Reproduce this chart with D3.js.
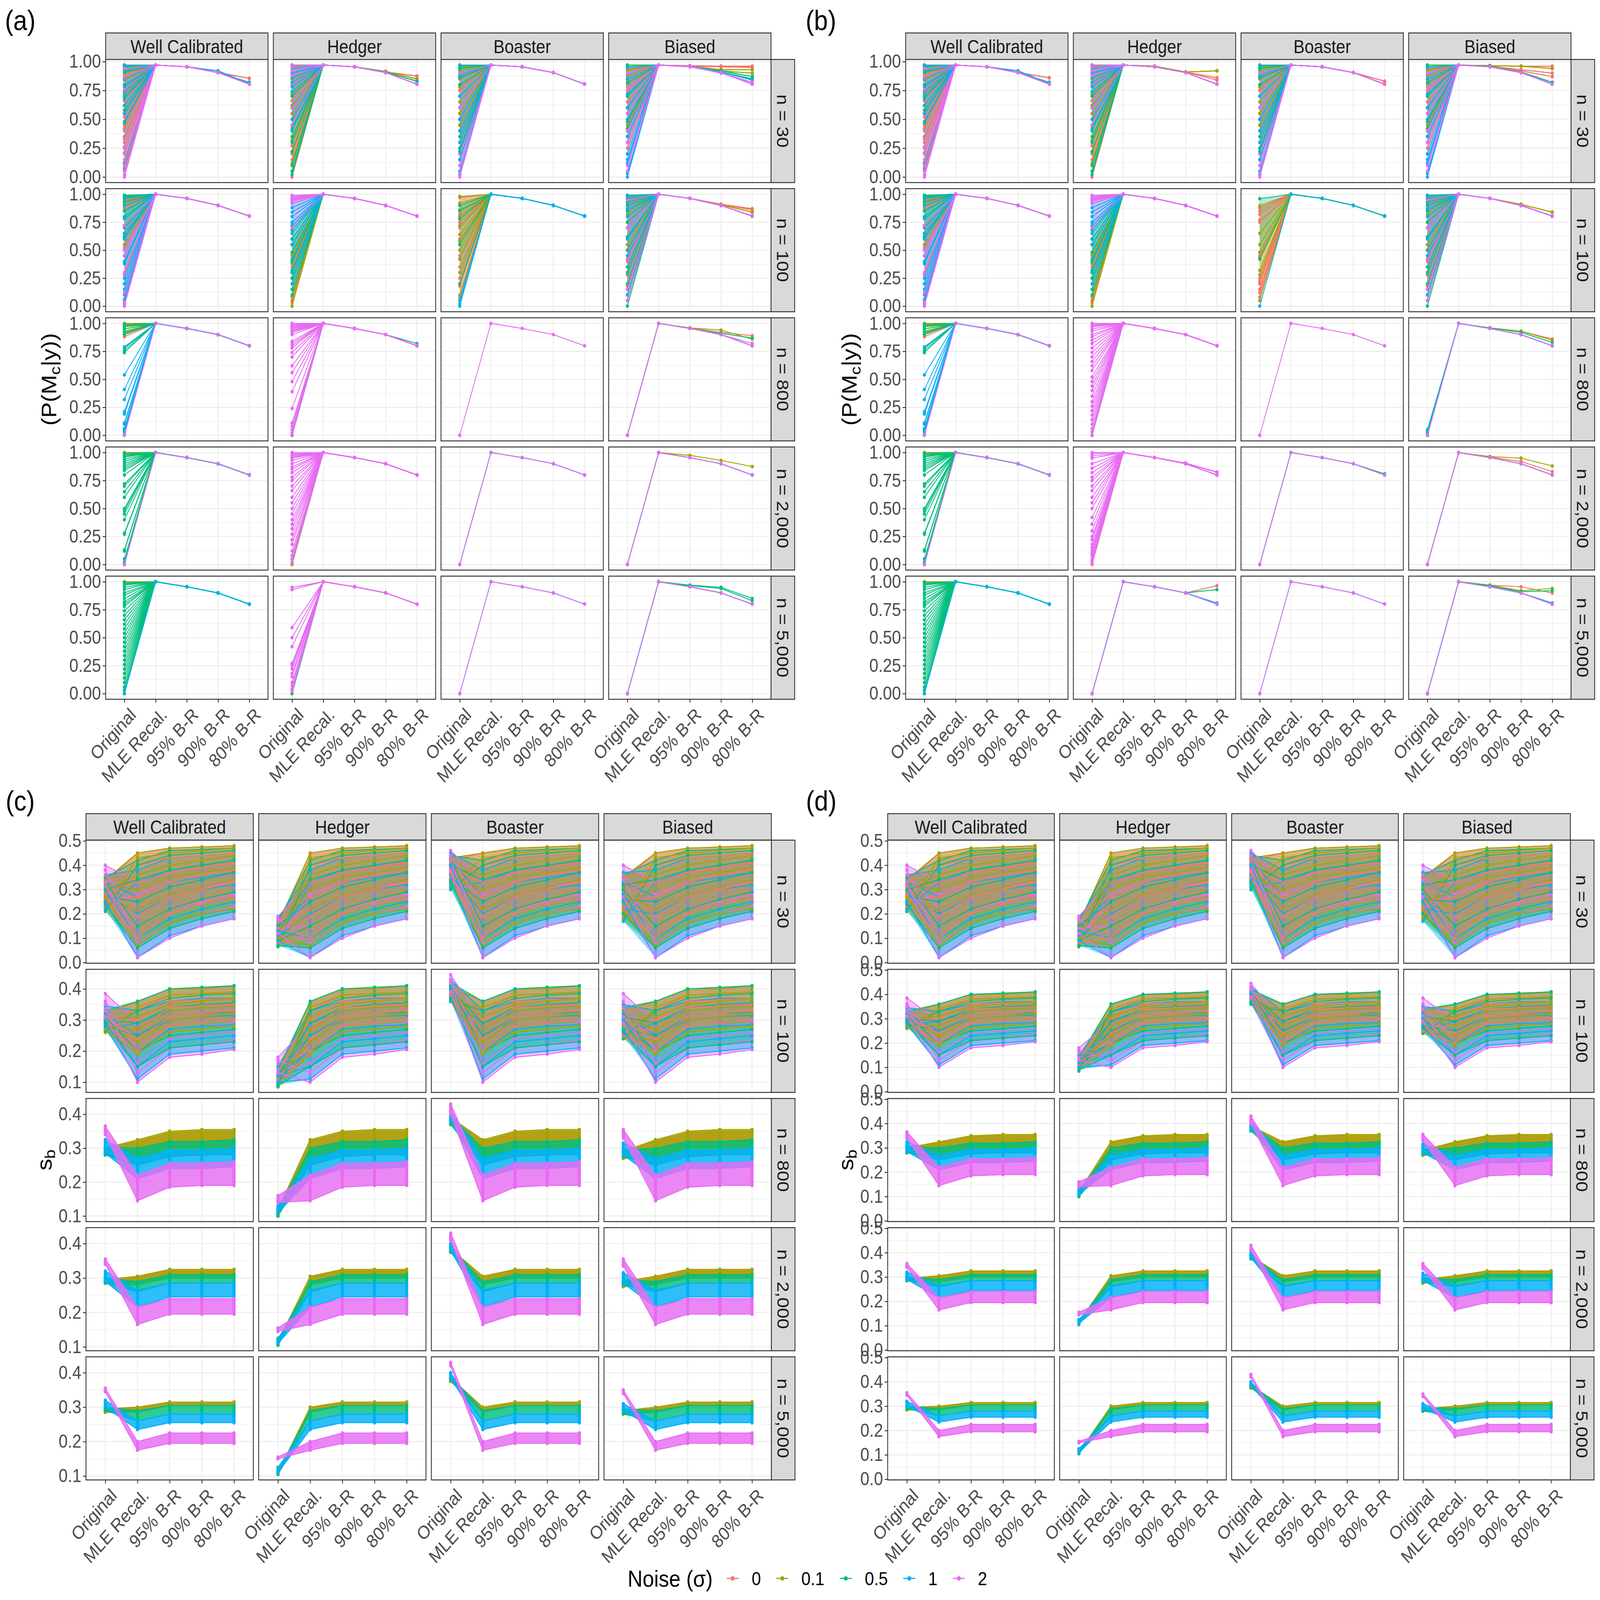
<!DOCTYPE html>
<html>
<head>
<meta charset='utf-8'>
<title>Recalibration panels</title>
<style>
	html, body { margin: 0; padding: 0; background: #fff; overflow: hidden; }
	svg { display: block; width: 100vw; height: 100vh; }
	text { font-family: 'Liberation Sans', Arial, sans-serif; }
	.strip rect { fill: #d9d9d9; stroke: #333; stroke-width: 2.5px; }
	.strip text { fill: #1a1a1a; font-size: 50px; }
	.panel-border { fill: none; stroke: #333; stroke-width: 2.5px; }
	.grid-major { stroke: #ebebeb; stroke-width: 2.4px; }
	.grid-minor { stroke: #ebebeb; stroke-width: 1.2px; }
	.axis text { fill: #4d4d4d; font-size: 49px; font-family: 'Liberation Sans', Arial, sans-serif; }
	.axis line { stroke: #333; stroke-width: 2.4px; }
	.axis path.domain { display: none; }
</style>
</head>
<body>
<script src='https://d3js.org/d3.v7.min.js'></script>
<script>
	'use strict';

	// ---- categories ----
	const xCats = ['Original', 'MLE Recal.', '95% B-R', '90% B-R', '80% B-R'];
	const types = ['Well Calibrated', 'Hedger', 'Boaster', 'Biased'];
	const sizes = ['n = 30', 'n = 100', 'n = 800', 'n = 2,000', 'n = 5,000'];
	const noise = ['0', '0.1', '0.5', '1', '2'];
	const noiseColors = ['#F8766D', '#A3A500', '#00BF7D', '#00B0F6', '#E76BF3'];
	const pTicks = [0, 0.25, 0.5, 0.75, 1];
	const sbTicks = [0, 0.1, 0.2, 0.3, 0.4, 0.5];

	// ---- P(Mc|y): common path after "Original" per n (MLE, 95, 90, 80) ----
	const pTail = [
		[0.97, 0.955, 0.905, 0.805],
		[1.00, 0.963, 0.900, 0.805],
		[1.00, 0.955, 0.900, 0.800],
		[1.00, 0.955, 0.900, 0.800],
		[1.00, 0.955, 0.900, 0.800]
	];

	// Original values, [row n][type][noise]
	const origA = [
		[
			[[0.97,0.93,0.88,0.8,0.66,0.52,0.45,0.33,0.3,0.25],
			 [0.96,0.9,0.84,0.72,0.62,0.55,0.42,0.35,0.21,0.08],
			 [0.97,0.95,0.91,0.85,0.78,0.68,0.58,0.47,0.12,0.06],
			 [0.96,0.92,0.86,0.8,0.74,0.7,0.62,0.55,0.48],
			 [0.94,0.86,0.76,0.4,0.33,0.26,0.2,0.15,0.1,0.05,0.02,0]],
			[[0.95,0.8,0.66,0.5,0.4,0.27,0.2,0.15,0.1,0],
			 [0.96,0.85,0.72,0.62,0.55,0.45,0.32,0.22,0.12,0.05],
			 [0.97,0.9,0.7,0.6,0.5,0.42,0.35,0.3,0.22,0.1,0.05,0.02],
			 [0.97,0.94,0.9,0.86,0.82,0.78,0.74,0.6,0.5,0.4],
			 [0.97,0.95,0.92,0.88,0.6,0.45]],
			[[0.95,0.75,0.6,0.55,0.45,0.3,0.2],
			 [0.97,0.95,0.92,0.88,0.85,0.78,0.7,0.65,0.55,0.45,0.4,0.3],
			 [0.97,0.94,0.9,0.86,0.8,0.6,0.5,0.35,0.25,0.15],
			 [0.96,0.88,0.7,0.5,0.4,0.3,0.22,0.15,0.1,0.05,0.02],
			 [0.9,0.6,0.1,0.03,0]],
			[[0.97,0.92,0.85,0.75,0.65,0.5,0.35,0.25],
			 [0.97,0.93,0.88,0.8,0.6,0.55,0.45,0.4],
			 [0.97,0.95,0.9,0.82,0.7,0.6,0.48,0.42,0.3],
			 [0.95,0.85,0.72,0.6,0.5,0.35,0.2,0.15,0.12,0.03,0],
			 [0.9,0.78,0.55,0.4,0.3,0.1,0.05]]
		],
		[
			[[0.99,0.97,0.95,0.92,0.88,0.52,0.28],
			 [0.99,0.97,0.94,0.9,0.86,0.55,0.5],
			 [0.99,0.98,0.96,0.93,0.9,0.85,0.8,0.7,0.65,0.62,0.05],
			 [0.97,0.9,0.85,0.78,0.72,0.65,0.6,0.5,0.45,0.4,0.38,0.25,0.2,0.15,0.1,0.06,0.02],
			 [0.72,0.5,0.45,0.3,0.12,0.03,0]],
			[[0.6,0.45,0.35,0.25,0.15,0.08,0.03],
			 [0.55,0.45,0.38,0.3,0.2,0.1,0.05,0],
			 [0.68,0.6,0.55,0.48,0.4,0.32,0.25,0.15,0.1],
			 [0.96,0.92,0.88,0.84,0.8,0.75,0.72,0.65,0.55,0.42,0.3,0.2],
			 [0.99,0.98,0.97,0.96,0.95,0.94,0.92,0.7]],
			[[0.97,0.9,0.82,0.75,0.7,0.6,0.45,0.35,0.25,0.18,0.1],
			 [0.98,0.92,0.86,0.8,0.72,0.64,0.58,0.5,0.42,0.3,0.2,0.08],
			 [0.9,0.85,0.78,0.55,0.2],
			 [0.05,0.02,0],
			 []],
			[[0.99,0.9,0.75,0.6,0.5,0.42,0.3,0.18,0.1],
			 [0.98,0.92,0.82,0.7,0.55,0.4,0.28,0.15],
			 [0.99,0.96,0.9,0.85,0.75,0.62,0.5,0.35,0.2,0.05,0],
			 [0.98,0.93,0.87,0.8,0.7,0.6,0.45,0.3,0.1],
			 [0.95,0.7,0.4,0.15,0.05]]
		],
		[
			[[0.99,0.97,0.9,0.88],
			 [1,0.99,0.98,0.97,0.95,0.93,0.91],
			 [0.99,0.97,0.95,0.92,0.9,0.78,0.76,0.74,0.2,0.1,0.05],
			 [0.79,0.54,0.41,0.32,0.21,0.19,0.11,0.06,0.03,0.01],
			 [0]],
			[[], [], [0], [0],
			 [1,0.99,0.98,0.97,0.96,0.95,0.94,0.93,0.92,0.9,0.84,0.82,0.8,0.78,0.74,0.7,0.62,0.56,0.48,0.39,0.24,0.11,0.08,0.05,0.02,0]],
			[[], [], [], [], [0]],
			[[0], [0], [0], [0], [0]]
		],
		[
			[[1], [1,1,0.99],
			 [0.99,0.98,0.97,0.96,0.94,0.92,0.9,0.88,0.86,0.84,0.8,0.72,0.7,0.65,0.6,0.5,0.48,0.45,0.4,0.28,0.27,0.13,0.12,0.05,0.02,0],
			 [0], [0]],
			[[], [0], [], [0.02],
			 [1,0.99,0.98,0.97,0.96,0.95,0.93,0.9,0.87,0.85,0.82,0.78,0.75,0.7,0.66,0.6,0.55,0.5,0.45,0.4,0.36,0.32,0.27,0.22,0.18,0.12,0.08,0.05,0.02]],
			[[], [], [0], [0], [0]],
			[[0], [0], [0], [0], [0]]
		],
		[
			[[], [1,1],
			 [0.99,0.98,0.97,0.95,0.93,0.9,0.88,0.85,0.82,0.8,0.78,0.74,0.7,0.66,0.62,0.58,0.54,0.5,0.46,0.42,0.38,0.34,0.3,0.26,0.22,0.18,0.14,0.1,0.06,0.03,0],
			 [0], []],
			[[], [], [0], [],
			 [0.95,0.93,0.59,0.5,0.42,0.27,0.25,0.22,0.18,0.15,0.1,0.07,0.04,0.02]],
			[[], [], [], [0], [0]],
			[[0], [0], [0,0], [0], [0]]
		]
	];

	const origB = [
		origA[0],
		[origA[1][0], origA[1][1],
			[[0.9,0.85,0.82,0.77,0.75,0.45,0.25,0.22,0.2,0.15,0.12,0.08],
			 [0.88,0.65,0.55,0.48,0.43,0.32,0.28,0.05],
			 [0.96,0.42],
			 [0],
			 []],
			origA[1][3]],
		[origA[2][0],
			[[], [], [], [0],
			 [1,0.99,0.98,0.97,0.95,0.93,0.9,0.88,0.85,0.82,0.78,0.74,0.7,0.66,0.62,0.58,0.52,0.48,0.44,0.4,0.35,0.3,0.26,0.22,0.18,0.14,0.1,0.06,0.03,0]],
			origA[2][2],
			[[0], [0], [0.05,0.02], [0.03,0], [0]]],
		[origA[3][0],
			[[0], [], [], [],
			 [1,0.99,0.97,0.95,0.9,0.86,0.82,0.78,0.75,0.7,0.66,0.6,0.55,0.5,0.42,0.36,0.3,0.25,0.22,0.18,0.15,0.12,0.1,0.08,0.05,0.03,0.01]],
			origA[3][2], origA[3][3]],
		[origA[4][0],
			[[0], [], [0], [0], [0]],
			origA[4][2], origA[4][3]]
	];

	// extra end paths: [row, type, noise, MLE, 95%, 90%, 80%]
	const tailsA = [
		[0,0,3, 0.97,0.955,0.92,0.81], [0,0,0, 0.97,0.955,0.905,0.855], [0,0,2, 0.97,0.955,0.905,0.82],
		[0,1,0, 0.97,0.955,0.91,0.875], [0,1,1, 0.97,0.955,0.915,0.85], [0,1,2, 0.97,0.955,0.91,0.83],
		[0,3,0, 0.97,0.965,0.96,0.96], [0,3,0, 0.97,0.96,0.955,0.95], [0,3,1, 0.97,0.96,0.93,0.93],
		[0,3,1, 0.97,0.96,0.92,0.9], [0,3,2, 0.97,0.96,0.92,0.87], [0,3,2, 0.97,0.96,0.91,0.85],
		[0,3,3, 0.97,0.96,0.91,0.84], [0,3,4, 0.97,0.96,0.9,0.82],
		[1,3,0, 1,0.963,0.91,0.87], [1,3,0, 1,0.963,0.91,0.86], [1,3,1, 1,0.963,0.905,0.84],
		[2,1,2, 1,0.955,0.9,0.82], [2,3,0, 1,0.96,0.92,0.89], [2,3,1, 1,0.96,0.94,0.86],
		[2,3,2, 1,0.955,0.91,0.87], [2,3,4, 1,0.955,0.9,0.82],
		[3,3,1, 1,0.975,0.93,0.875],
		[4,3,2, 1,0.97,0.95,0.85], [4,3,2, 1,0.965,0.94,0.83]
	];
	const tailsB = [
		[0,0,3, 0.97,0.955,0.92,0.81], [0,0,0, 0.97,0.955,0.905,0.86], [0,0,2, 0.97,0.955,0.905,0.82],
		[0,1,1, 0.97,0.96,0.91,0.92], [0,1,0, 0.97,0.96,0.91,0.86], [0,1,0, 0.97,0.96,0.91,0.84],
		[0,2,0, 0.97,0.955,0.905,0.83],
		[0,3,0, 0.97,0.965,0.96,0.96], [0,3,1, 0.97,0.965,0.96,0.94], [0,3,0, 0.97,0.96,0.93,0.9],
		[0,3,0, 0.97,0.96,0.92,0.87], [0,3,2, 0.97,0.96,0.91,0.82],
		[1,3,1, 1,0.963,0.91,0.84],
		[2,3,0, 1,0.96,0.93,0.86], [2,3,1, 1,0.96,0.93,0.85], [2,3,2, 1,0.96,0.92,0.83],
		[3,1,4, 1,0.955,0.905,0.825], [3,2,2, 1,0.955,0.9,0.81], [3,3,1, 1,0.965,0.95,0.88],
		[3,3,0, 1,0.96,0.92,0.83],
		[4,1,0, 1,0.955,0.9,0.965], [4,1,2, 1,0.955,0.9,0.93], [4,1,3, 1,0.955,0.9,0.81],
		[4,3,1, 1,0.97,0.92,0.94], [4,3,0, 1,0.97,0.955,0.9], [4,3,2, 1,0.965,0.91,0.92],
		[4,3,3, 1,0.955,0.9,0.81]
	];

	// ---- s_b: line i of a group = [orig[i], mle[i], br[i][0..2]] ----
	// Original, [row][type][noise]
	const sbOrig = [
		[[[0.33,0.23,0.3,0.26,0.31,0.28],[0.34,0.22,0.29,0.32,0.25,0.27],[0.35,0.21,0.3,0.27,0.33,0.24],
		  [0.36,0.22,0.33,0.28,0.3,0.25],[0.40,0.25,0.36,0.3,0.38,0.33]],
		 [[0.15,0.07,0.12,0.1,0.13,0.08],[0.16,0.07,0.11,0.14,0.09,0.1],[0.17,0.065,0.12,0.15,0.09,0.07],
		  [0.18,0.07,0.15,0.11,0.13,0.09],[0.19,0.1,0.17,0.14,0.18,0.12]],
		 [[0.42,0.33,0.38,0.4,0.35,0.37],[0.43,0.32,0.39,0.36,0.41,0.34],[0.44,0.3,0.4,0.35,0.42,0.33],
		  [0.45,0.31,0.42,0.36,0.4,0.34],[0.46,0.34,0.44,0.4,0.42,0.38]],
		 [[0.34,0.19,0.3,0.25,0.28,0.22],[0.35,0.18,0.31,0.24,0.28,0.21],[0.36,0.17,0.32,0.26,0.3,0.2],
		  [0.37,0.17,0.33,0.22,0.28,0.25],[0.40,0.22,0.36,0.3,0.34,0.27]]],
		[[[0.32,0.27,0.3,0.28,0.31,0.29],[0.32,0.26,0.3,0.28,0.29,0.27],[0.33,0.265,0.3,0.28,0.31,0.29],
		  [0.345,0.27,0.32,0.29,0.3,0.28],[0.385,0.29,0.36,0.33,0.35,0.31]],
		 [[0.13,0.09,0.12,0.1,0.11,0.095],[0.13,0.085,0.11,0.1,0.12,0.09],[0.14,0.085,0.12,0.1,0.13,0.09],
		  [0.15,0.09,0.13,0.11,0.12,0.1],[0.18,0.11,0.16,0.14,0.17,0.13]],
		 [[0.41,0.36,0.39,0.37,0.4,0.38],[0.41,0.36,0.38,0.4,0.37,0.39],[0.42,0.36,0.4,0.38,0.41,0.37],
		  [0.43,0.36,0.41,0.38,0.4,0.39],[0.445,0.37,0.43,0.4,0.42,0.39]],
		 [[0.33,0.24,0.3,0.27,0.29,0.25],[0.33,0.24,0.29,0.31,0.26,0.28],[0.34,0.24,0.31,0.27,0.3,0.26],
		  [0.35,0.25,0.32,0.28,0.3,0.27],[0.385,0.27,0.36,0.31,0.34,0.29]]],
		[[[0.28,0.30],[0.28,0.30],[0.28,0.305],[0.285,0.325],[0.34,0.365]],
		 [[0.10,0.115],[0.10,0.12],[0.10,0.12],[0.11,0.13],[0.14,0.16]],
		 [[0.37,0.39],[0.37,0.39],[0.37,0.395],[0.38,0.41],[0.40,0.43]],
		 [[0.27,0.29],[0.27,0.29],[0.275,0.295],[0.28,0.315],[0.33,0.355]]],
		[[[0.285,0.295],[0.285,0.295],[0.285,0.30],[0.29,0.32],[0.34,0.355]],
		 [[0.105,0.115],[0.105,0.115],[0.105,0.12],[0.11,0.125],[0.145,0.155]],
		 [[0.375,0.385],[0.375,0.385],[0.375,0.39],[0.38,0.40],[0.41,0.43]],
		 [[0.275,0.29],[0.275,0.29],[0.28,0.295],[0.285,0.315],[0.335,0.355]]],
		[[[0.285,0.295],[0.285,0.295],[0.29,0.30],[0.30,0.32],[0.345,0.355]],
		 [[0.105,0.11],[0.105,0.11],[0.105,0.115],[0.11,0.125],[0.15,0.155]],
		 [[0.375,0.385],[0.375,0.385],[0.38,0.39],[0.385,0.40],[0.42,0.43]],
		 [[0.28,0.29],[0.28,0.29],[0.28,0.295],[0.29,0.31],[0.34,0.35]]]
	];
	// MLE Recal., [row][noise]
	const sbMle = [
		[[0.45,0.40,0.33,0.27,0.19,0.10],[0.45,0.43,0.36,0.30,0.22,0.07],[0.42,0.40,0.34,0.25,0.15,0.06],
		 [0.38,0.33,0.27,0.2,0.1,0.02],[0.33,0.28,0.22,0.15,0.08,0.02]],
		[[0.36,0.33,0.30,0.27,0.24,0.20],[0.36,0.34,0.31,0.27,0.23,0.19],[0.36,0.33,0.29,0.25,0.2,0.15],
		 [0.33,0.29,0.25,0.2,0.15,0.11],[0.29,0.25,0.2,0.16,0.13,0.10]],
		[[0.27,0.32],[0.27,0.325],[0.25,0.30],[0.21,0.27],[0.145,0.22]],
		[[0.28,0.305],[0.28,0.305],[0.26,0.29],[0.215,0.265],[0.165,0.215]],
		[[0.285,0.30],[0.285,0.30],[0.26,0.29],[0.235,0.26],[0.175,0.20]]
	];
	// 95%, 90%, 80% B-R, [row][noise][line]
	const sbBr = [
		[[[0.47,0.475,0.48],[0.43,0.44,0.45],[0.37,0.39,0.41],[0.33,0.36,0.38],[0.27,0.3,0.33],[0.2,0.24,0.26]],
		 [[0.47,0.475,0.48],[0.45,0.46,0.47],[0.40,0.42,0.44],[0.35,0.37,0.39],[0.28,0.31,0.34],[0.16,0.2,0.22]],
		 [[0.46,0.465,0.47],[0.44,0.45,0.46],[0.38,0.40,0.42],[0.31,0.34,0.37],[0.22,0.26,0.29],[0.14,0.18,0.21]],
		 [[0.43,0.44,0.45],[0.38,0.40,0.42],[0.33,0.35,0.37],[0.27,0.30,0.32],[0.18,0.22,0.25],[0.11,0.15,0.18]],
		 [[0.38,0.40,0.42],[0.33,0.35,0.37],[0.28,0.31,0.33],[0.22,0.25,0.28],[0.16,0.2,0.23],[0.10,0.15,0.18]]],
		[[[0.40,0.405,0.41],[0.38,0.385,0.39],[0.36,0.365,0.37],[0.34,0.345,0.35],[0.31,0.32,0.33],[0.28,0.29,0.30]],
		 [[0.40,0.40,0.41],[0.38,0.385,0.39],[0.35,0.36,0.37],[0.33,0.34,0.345],[0.30,0.31,0.32],[0.26,0.27,0.28]],
		 [[0.40,0.405,0.41],[0.37,0.38,0.385],[0.34,0.35,0.355],[0.31,0.32,0.325],[0.25,0.26,0.27],[0.21,0.22,0.23]],
		 [[0.36,0.37,0.37],[0.33,0.34,0.345],[0.30,0.31,0.315],[0.27,0.28,0.285],[0.23,0.24,0.25],[0.19,0.20,0.21]],
		 [[0.33,0.34,0.35],[0.30,0.31,0.32],[0.27,0.28,0.29],[0.24,0.25,0.26],[0.21,0.22,0.235],[0.18,0.19,0.205]]],
		[[[0.30,0.30,0.30],[0.345,0.35,0.35]], [[0.30,0.30,0.30],[0.35,0.355,0.355]],
		 [[0.275,0.28,0.28],[0.32,0.32,0.325]], [[0.24,0.24,0.245],[0.295,0.295,0.30]],
		 [[0.185,0.19,0.19],[0.255,0.255,0.26]]],
		[[[0.305,0.305,0.305],[0.325,0.325,0.325]], [[0.30,0.30,0.30],[0.325,0.325,0.325]],
		 [[0.285,0.285,0.285],[0.31,0.31,0.31]], [[0.245,0.245,0.245],[0.285,0.285,0.285]],
		 [[0.195,0.195,0.195],[0.24,0.24,0.24]]],
		[[[0.305,0.305,0.305],[0.315,0.315,0.315]], [[0.305,0.305,0.305],[0.315,0.315,0.315]],
		 [[0.28,0.28,0.28],[0.305,0.305,0.305]], [[0.255,0.255,0.255],[0.28,0.28,0.28]],
		 [[0.195,0.195,0.195],[0.225,0.225,0.225]]]
	];

	// ---- layout ----
	const W = 4800, H = 4224;
	const stripH = 70, rowH = 325, gap = 16, tickLen = 9, sideW = 71;

	// the drawing fills the whole window
	const svg = d3.select('body').append('svg')
		.attr('viewBox', '0 0 ' + W + ' ' + H)
		.attr('preserveAspectRatio', 'none');
	svg.append('rect').attr('width', W).attr('height', H).attr('fill', '#fff');

	function expand(ext) {
		const pad = (ext[1] - ext[0]) * 0.05;
		return [ext[0] - pad, ext[1] + pad];
	}

	// lines for the P(Mc|y) panels
	function probCells(orig, extra) {
		const cells = {};
		orig.forEach(function(row, r) {
			row.forEach(function(cell, t) {
				const groups = [];
				cell.forEach(function(origs, k) {
					if (!origs.length) return;
					const tails = [pTail[r]].concat(extra
						.filter(function(e) {return e[0] === r && e[1] === t && e[2] === k;})
						.map(function(e) {return e.slice(3);}));
					const n = Math.max(origs.length, tails.length);
					const lines = [];
					for (let i = 0; i < n; i++) {
						lines.push([origs[i % origs.length]].concat(tails[i % tails.length]));
					}
					groups.push({k: k, lines: lines});
				});
				cells[r + '-' + t] = groups;
			});
		});
		return cells;
	}

	function sbCell(r, t) {
		return noise.map(function(nz, k) {
			const o = sbOrig[r][t][k], m = sbMle[r][k], b = sbBr[r][k];
			const lines = o.map(function(v, i) {return [v, m[i]].concat(b[i]);});
			return {k: k, lines: lines};
		});
	}

	function envelope(lines) {
		return xCats.map(function(cat, i) {
			return {c: cat,
				lo: d3.min(lines, function(l) {return l[i];}),
				hi: d3.max(lines, function(l) {return l[i];})};
		});
	}

	function drawProbMarks(cells) {
		return function(g, r, t, x, y) {
			const line = d3.line()
				.x(function(d, i) {return x(xCats[i]);})
				.y(function(d) {return y(d);});
			const fan = d3.area()
				.x(function(d) {return x(d.c);})
				.y0(function(d) {return y(d.lo);})
				.y1(function(d) {return y(d.hi);});
			const groups = cells[r + '-' + t];
			if (r < 2) {
				groups.forEach(function(gr) {
					g.append('path').attr('d', fan(envelope(gr.lines).slice(0, 2)))
						.attr('fill', noiseColors[gr.k]).attr('fill-opacity', 0.3);
				});
			}
			groups.forEach(function(gr) {
				const c = noiseColors[gr.k];
				gr.lines.forEach(function(v) {
					g.append('path').attr('d', line(v))
						.attr('fill', 'none').attr('stroke', c).attr('stroke-width', 2.4);
					g.selectAll(null).data(v).enter().append('circle')
						.attr('cx', function(d, i) {return x(xCats[i]);})
						.attr('cy', function(d) {return y(d);})
						.attr('r', 4.8).attr('fill', c);
				});
			});
		};
	}

	function drawSbMarks(g, r, t, x, y) {
		const dense = r < 2;
		const area = d3.area()
			.x(function(d) {return x(d.c);})
			.y0(function(d) {return y(d.lo);})
			.y1(function(d) {return y(d.hi);});
		const line = d3.line()
			.x(function(d, i) {return x(xCats[i]);})
			.y(function(d) {return y(d);});
		const bands = sbCell(r, t);

		function drawColumns(b, op) {
			g.selectAll(null).data(envelope(b.lines)).enter().append('line')
				.attr('x1', function(d) {return x(d.c);})
				.attr('x2', function(d) {return x(d.c);})
				.attr('y1', function(d) {return y(d.lo);})
				.attr('y2', function(d) {return y(d.hi);})
				.attr('stroke', noiseColors[b.k]).attr('stroke-width', 9)
				.attr('stroke-linecap', 'round').attr('stroke-opacity', op);
		}
		function drawLine(v, c) {
			g.append('path').attr('d', line(v))
				.attr('fill', 'none').attr('stroke', c).attr('stroke-width', 2.6);
			g.selectAll(null).data(v).enter().append('circle')
				.attr('cx', function(d, i) {return x(xCats[i]);})
				.attr('cy', function(d) {return y(d);})
				.attr('r', 4.8).attr('fill', c);
		}

		if (dense) {
			// high-noise bands first so the low-noise colours sit on top, as in the lines
			bands.slice().reverse().forEach(function(b) {
				g.append('path').attr('d', area(envelope(b.lines)))
					.attr('fill', noiseColors[b.k]).attr('fill-opacity', 0.42);
			});
			bands.forEach(function(b) {drawColumns(b, 0.45);});
			const n = d3.max(bands, function(b) {return b.lines.length;});
			for (let i = 0; i < n; i++) {
				bands.forEach(function(b) {
					if (b.lines[i]) drawLine(b.lines[i], noiseColors[b.k]);
				});
			}
		} else {
			bands.forEach(function(b) {
				const c = noiseColors[b.k];
				g.append('path').attr('d', area(envelope(b.lines)))
					.attr('fill', c).attr('fill-opacity', 0.82);
				b.lines.forEach(function(v) {drawLine(v, c);});
				drawColumns(b, 1);
			});
		}
	}

	function drawFigure(cfg) {
		const x = d3.scalePoint().domain(xCats).range([0, cfg.colW]).padding(0.6);
		const root = svg.append('g');
		const right = cfg.left + 4 * cfg.colW + 3 * gap;

		root.append('text')
			.attr('x', cfg.labelX).attr('y', cfg.top - 8)
			.attr('font-size', 75).attr('fill', '#000')
			.text(cfg.label);

		types.forEach(function(tp, t) {
			const s = root.append('g').attr('class', 'strip')
				.attr('transform', 'translate(' + (cfg.left + t * (cfg.colW + gap)) + ',' + cfg.top + ')');
			s.append('rect').attr('width', cfg.colW).attr('height', stripH);
			s.append('text').attr('x', cfg.colW / 2).attr('y', stripH / 2)
				.attr('dy', '0.36em').attr('text-anchor', 'middle').text(tp);
		});

		sizes.forEach(function(sz, r) {
			const py = cfg.top + stripH + r * (rowH + gap);
			const y = d3.scaleLinear().domain(cfg.yDomain(r)).range([rowH, 0]);
			const dom = y.domain();
			const ticks = cfg.ticks.filter(function(v) {return v >= dom[0] && v <= dom[1];});
			const step = cfg.ticks[1] - cfg.ticks[0];
			const minor = cfg.ticks.map(function(v) {return v - step / 2;})
				.concat([cfg.ticks[cfg.ticks.length - 1] + step / 2])
				.filter(function(v) {return v >= dom[0] && v <= dom[1];});

			const s = root.append('g').attr('class', 'strip')
				.attr('transform', 'translate(' + right + ',' + py + ')');
			s.append('rect').attr('width', sideW).attr('height', rowH);
			s.append('text')
				.attr('transform', 'translate(' + (sideW / 2) + ',' + (rowH / 2) + ') rotate(90)')
				.attr('dy', '0.36em').attr('text-anchor', 'middle').text(sz);

			types.forEach(function(tp, t) {
				const px = cfg.left + t * (cfg.colW + gap);
				const cell = root.append('g').attr('transform', 'translate(' + px + ',' + py + ')');
				cell.append('rect').attr('width', cfg.colW).attr('height', rowH).attr('fill', '#fff');
				cell.selectAll(null).data(minor).enter().append('line')
					.attr('class', 'grid-minor')
					.attr('x1', 0).attr('x2', cfg.colW)
					.attr('y1', function(d) {return y(d);}).attr('y2', function(d) {return y(d);});
				cell.selectAll(null).data(ticks).enter().append('line')
					.attr('class', 'grid-major')
					.attr('x1', 0).attr('x2', cfg.colW)
					.attr('y1', function(d) {return y(d);}).attr('y2', function(d) {return y(d);});
				cell.selectAll(null).data(xCats).enter().append('line')
					.attr('class', 'grid-major')
					.attr('x1', function(d) {return x(d);}).attr('x2', function(d) {return x(d);})
					.attr('y1', 0).attr('y2', rowH);

				cfg.marks(cell.append('g'), r, t, x, y);

				cell.append('rect').attr('class', 'panel-border')
					.attr('width', cfg.colW).attr('height', rowH);

				if (t === 0) {
					cell.append('g').attr('class', 'axis')
						.call(d3.axisLeft(y).tickValues(ticks).tickFormat(cfg.format)
							.tickSize(tickLen).tickPadding(5));
				}
				if (r === sizes.length - 1) {
					const ax = cell.append('g').attr('class', 'axis')
						.attr('transform', 'translate(0,' + rowH + ')')
						.call(d3.axisBottom(x).tickSize(tickLen));
					ax.selectAll('text')
						.attr('x', 0).attr('y', 0).attr('dy', '0.72em')
						.attr('text-anchor', 'end')
						.attr('transform', 'translate(12,' + (tickLen + 10) + ') rotate(-45)');
				}
			});
		});

		const midY = cfg.top + stripH + (5 * rowH + 4 * gap) / 2;
		const title = root.append('text')
			.attr('transform', 'translate(' + cfg.titleX + ',' + midY + ') rotate(-90)')
			.attr('text-anchor', 'middle').attr('dy', '0.36em')
			.attr('font-size', 62).attr('fill', '#000');
		cfg.title(title);
	}

	function probTitle(t) {
		t.append('tspan').text('(P(M');
		t.append('tspan').attr('font-size', 44).attr('baseline-shift', '-25%').text('c');
		t.append('tspan').text('|y))');
	}
	function sbTitle(t) {
		t.append('tspan').text('s');
		t.append('tspan').attr('font-size', 44).attr('baseline-shift', '-25%').text('b');
	}

	function probDomain(cells) {
		return function(r) {
			let vals = [];
			types.forEach(function(tp, t) {
				cells[r + '-' + t].forEach(function(gr) {vals = vals.concat(d3.merge(gr.lines));});
			});
			return expand(d3.extent(vals));
		};
	}
	function sbExtent(r) {
		let vals = [];
		types.forEach(function(tp, t) {
			sbCell(r, t).forEach(function(b) {vals = vals.concat(d3.merge(b.lines));});
		});
		return d3.extent(vals);
	}

	const cellsA = probCells(origA, tailsA);
	const cellsB = probCells(origB, tailsB);
	const fmtP = d3.format('.2f');
	const fmtS = d3.format('.1f');
	const allSb = d3.extent(d3.merge(sizes.map(function(s, r) {return sbExtent(r);})));

	drawFigure({label: '(a)', left: 317, top: 87, colW: 487, labelX: 15, titleX: 147,
		yDomain: probDomain(cellsA), ticks: pTicks, format: fmtP,
		marks: drawProbMarks(cellsA), title: probTitle});
	drawFigure({label: '(b)', left: 2717, top: 87, colW: 487, labelX: 2417, titleX: 2548,
		yDomain: probDomain(cellsB), ticks: pTicks, format: fmtP,
		marks: drawProbMarks(cellsB), title: probTitle});
	drawFigure({label: '(c)', left: 258, top: 2148, colW: 502, labelX: 17, titleX: 132,
		yDomain: function(r) {return expand(sbExtent(r));}, ticks: sbTicks, format: fmtS,
		marks: drawSbMarks, title: sbTitle});
	drawFigure({label: '(d)', left: 2663, top: 2148, colW: 500, labelX: 2418, titleX: 2537,
		yDomain: function() {return expand(allSb);}, ticks: sbTicks, format: fmtS,
		marks: drawSbMarks, title: sbTitle});

	// ---- legend ----
	const legend = svg.append('g').attr('transform', 'translate(0,4167)');
	legend.append('text').attr('x', 1883).attr('dy', '0.36em')
		.attr('font-size', 62).attr('fill', '#000').text('Noise (\u03c3)');
	let lx = 2198;
	noise.forEach(function(nz, k) {
		legend.append('line').attr('x1', lx - 18).attr('x2', lx + 18)
			.attr('stroke', noiseColors[k]).attr('stroke-width', 3);
		legend.append('circle').attr('cx', lx).attr('r', 6).attr('fill', noiseColors[k]);
		const lab = legend.append('text').attr('x', lx + 57).attr('dy', '0.36em')
			.attr('font-size', 50).attr('fill', '#000').text(nz);
		lx = lx + 57 + lab.node().getComputedTextLength() + 64;
	});
</script>
</body>
</html>
